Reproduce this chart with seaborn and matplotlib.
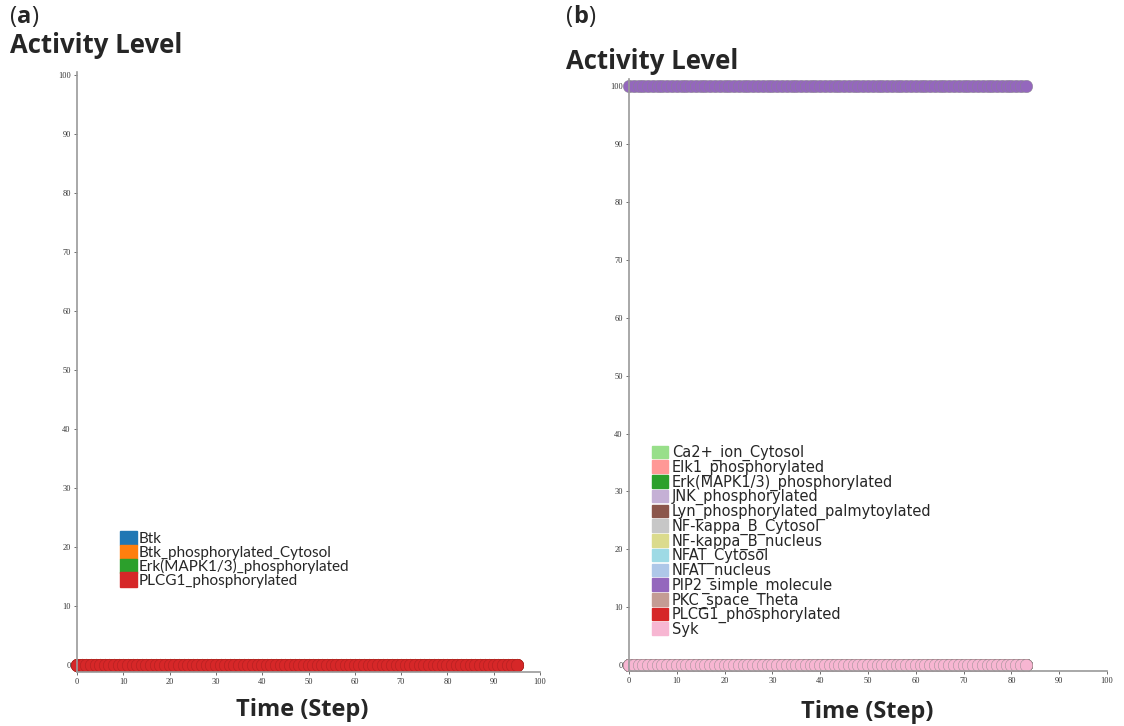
import matplotlib
matplotlib.use("Agg")
import matplotlib.pyplot as plt
import seaborn as sns
import pandas as pd
from matplotlib.patches import Patch

sns.set_theme(style="white")
plt.rcParams['font.family'] = ['DejaVu Sans']

# ---------------- data ----------------
steps_a = list(range(0, 96))          # time steps 0..95
series_a = ["Btk", "Btk_phosphorylated_Cytosol",
            "Erk(MAPK1/3)_phosphorylated", "PLCG1_phosphorylated"]
level_a = [0, 0, 0, 0]                # activity level of each series (constant)
colors_a = ["#1f77b4", "#ff7f0e", "#2ca02c", "#d62728"]

steps_b = list(range(0, 84))          # time steps 0..83
series_b = ["Ca2+_ion_Cytosol", "Elk1_phosphorylated", "Erk(MAPK1/3)_phosphorylated",
            "JNK_phosphorylated", "Lyn_phosphorylated_palmytoylated",
            "NF-kappa_B_Cytosol", "NF-kappa_B_nucleus", "NFAT_Cytosol",
            "NFAT_nucleus", "PIP2_simple_molecule", "PKC_space_Theta",
            "PLCG1_phosphorylated", "Syk"]
level_b = [0, 0, 0, 0, 0, 0, 0, 0, 0, 100, 0, 0, 0]
colors_b = ["#98df8a", "#ff9896", "#2ca02c", "#c5b0d5", "#8c564b", "#c7c7c7",
            "#dbdb8d", "#9edae5", "#aec7e8", "#9467bd", "#c49c94", "#d62728", "#f7b6d2"]

x_ticks = [0, 10, 20, 30, 40, 50, 60, 70, 80, 90, 100]
y_ticks = [0, 10, 20, 30, 40, 50, 60, 70, 80, 90, 100]


def long_df(steps, names, levels):
    rows = []
    for n, lv in zip(names, levels):
        for s in steps:
            rows.append({"step": s, "level": lv, "series": n})
    return pd.DataFrame(rows)


df_a = long_df(steps_a, series_a, level_a)
df_b = long_df(steps_b, series_b, level_b)

fig = plt.figure(figsize=(11.24, 7.26), dpi=100)
ax_a = fig.add_axes([0.0685, 0.0744, 0.412, 0.826])
ax_b = fig.add_axes([0.5596, 0.0758, 0.4253, 0.815])


def style_axes(ax, ylo, yhi):
    ax.set_xlim(0, 100)
    ax.set_ylim(ylo, yhi)
    ax.set_xticks(x_ticks)
    ax.set_yticks(y_ticks)
    ax.tick_params(axis="both", labelsize=6, colors="#555555", length=2.5,
                   width=0.6, pad=2, direction="out", bottom=True, left=True)
    for lab in ax.get_xticklabels() + ax.get_yticklabels():
        lab.set_color("#333333")
        lab.set_fontfamily("Liberation Serif")
    for sp in ["top", "right"]:
        ax.spines[sp].set_visible(False)
    for sp in ["left", "bottom"]:
        ax.spines[sp].set_color("#9a9a9a")
        ax.spines[sp].set_linewidth(1.2)
    ax.set_xlabel("")
    ax.set_ylabel("")
    ax.grid(False)


# panel a
sns.lineplot(data=df_a, x="step", y="level", hue="series", hue_order=series_a,
             palette=colors_a, marker="o", markersize=9, markeredgecolor="#b02020",
             markeredgewidth=0.4, linewidth=2, legend=False, ax=ax_a, clip_on=False)
style_axes(ax_a, -1.2, 100.5)
ax_a.legend(handles=[Patch(facecolor=c, edgecolor=c) for c in colors_a], labels=series_a,
            loc="upper left", bbox_to_anchor=(0.08, 0.245), frameon=False,
            handlelength=1.1, handleheight=1.05, handletextpad=0.1, labelspacing=-0.1,
            borderaxespad=0, prop={"family": "Lato", "size": 11})

# panel b
sns.lineplot(data=df_b, x="step", y="level", hue="series", hue_order=series_b,
             palette=colors_b, marker="o", markersize=9, markeredgewidth=0.3,
             markeredgecolor="#888888", linewidth=2, legend=False, ax=ax_b, clip_on=False)
style_axes(ax_b, -1.0, 101.2)
ax_b.legend(handles=[Patch(facecolor=c, edgecolor=c) for c in colors_b], labels=series_b,
            loc="upper left", bbox_to_anchor=(0.035, 0.392), frameon=False,
            handlelength=1.15, handleheight=0.95, handletextpad=0.25, labelspacing=-0.1,
            borderaxespad=0, prop={"family": "DejaVu Sans", "size": 10.5})


def panel_tag(x, y, letter):
    t1 = fig.text(x, y, "(", fontsize=17, va="baseline", ha="left", family="Open Sans")
    t2 = fig.text(0, 0, letter, fontsize=17, fontweight="bold", va="baseline", ha="left",
                  family="Open Sans")
    t3 = fig.text(0, 0, ")", fontsize=17, va="baseline", ha="left", family="Open Sans")
    fig.canvas.draw()
    r = fig.canvas.get_renderer()
    inv = fig.transFigure.inverted()
    b1 = t1.get_window_extent(r)
    t2.set_position((inv.transform((b1.x1, 0))[0], y))
    b2 = t2.get_window_extent(r)
    t3.set_position((inv.transform((b2.x1, 0))[0], y))


panel_tag(0.009, 0.968, "a")
panel_tag(0.504, 0.968, "b")

fig.text(0.009, 0.938, "Activity Level", fontsize=18.5, fontweight="bold", va="center",
         ha="left", family="Open Sans")
fig.text(0.504, 0.915, "Activity Level", fontsize=18.5, fontweight="bold", va="center",
         ha="left", family="Open Sans")
fig.text(0.269, 0.022, "Time (Step)", fontsize=17, fontweight="bold", va="center",
         ha="center", family="Open Sans")
fig.text(0.772, 0.019, "Time (Step)", fontsize=17, fontweight="bold", va="center",
         ha="center", family="Open Sans")

fig.savefig("out.png", dpi=100)
